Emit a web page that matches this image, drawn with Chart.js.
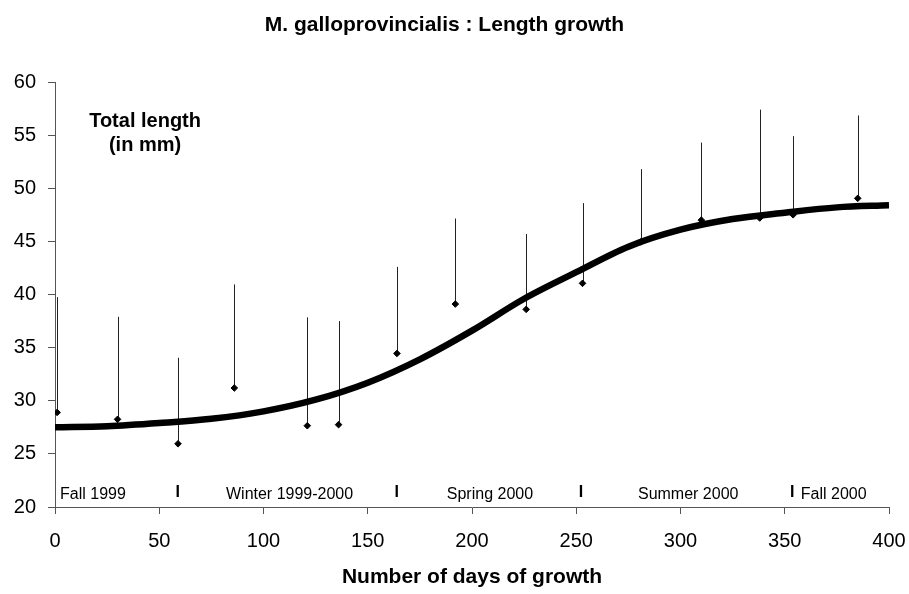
<!DOCTYPE html>
<html><head><meta charset="utf-8">
<script src="https://cdn.jsdelivr.net/npm/chart.js@4/dist/chart.umd.min.js"></script>
<style>html,body{margin:0;padding:0;background:#fff}</style>
</head><body>
<canvas id="c" width="909" height="594"></canvas>
<script>
// ---- data ----
const sampleDays   = [1, 30, 59, 86, 121, 136, 164, 192, 226, 253, 281, 310, 338, 354, 385];
const meanLength   = [28.9, 28.25, 25.95, 31.2, 27.65, 27.75, 34.45, 39.1, 38.6, 41.05, 44.95, 47.0, 47.2, 47.5, 49.05];
const upperLength  = [39.75, 37.9, 34.05, 40.95, 37.85, 37.5, 42.6, 47.15, 45.7, 48.6, 51.8, 54.3, 57.4, 54.9, 56.85];
const curveDays    = [0, 25, 50, 75, 100, 125, 150, 175, 200, 225, 250, 275, 300, 325, 350, 375, 400];
const curveLength  = [27.5, 27.6, 27.9, 28.3, 29.0, 30.1, 31.7, 33.9, 36.6, 39.6, 42.1, 44.5, 46.1, 47.1, 47.7, 48.2, 48.4];
const seasonNames  = ['Fall 1999', 'Winter 1999-2000', 'Spring 2000', 'Summer 2000', 'Fall 2000'];
const seasonLabelDays = [18.2, 112.5, 208.6, 303.7, 373.5];
const seasonBoundaryDays = [58.8, 163.9, 252.3, 353.6];
const yAxisNote = ['Total length', '(in mm)'];

Chart.defaults.font.family = '"Liberation Sans", Arial, sans-serif';
Chart.defaults.color = '#000';

const errorBars = {
  id: 'errorBars',
  beforeDatasetsDraw(chart) {
    const {x, y} = chart.scales;
    const ctx = chart.ctx;
    ctx.save();
    ctx.strokeStyle = '#222';
    ctx.lineWidth = 1;
    sampleDays.forEach((d, i) => {
      const px = Math.round(x.getPixelForValue(d)) + 0.5;
      ctx.beginPath();
      ctx.moveTo(px, y.getPixelForValue(meanLength[i]));
      ctx.lineTo(px, y.getPixelForValue(upperLength[i]));
      ctx.stroke();
    });
    ctx.restore();
  }
};

const annotations = {
  id: 'annotations',
  afterDatasetsDraw(chart) {
    const {x, y} = chart.scales;
    const ctx = chart.ctx;
    ctx.save();
    ctx.fillStyle = '#000';
    ctx.textAlign = 'center';
    ctx.textBaseline = 'alphabetic';
    ctx.font = '16px "Liberation Sans", Arial, sans-serif';
    seasonNames.forEach((n, i) => {
      ctx.fillText(n, x.getPixelForValue(seasonLabelDays[i]), y.getPixelForValue(20.8));
    });
    ctx.font = 'bold 16px "Liberation Sans", Arial, sans-serif';
    seasonBoundaryDays.forEach(d => {
      ctx.fillText('I', x.getPixelForValue(d), y.getPixelForValue(20.97));
    });
    ctx.font = 'bold 20px "Liberation Sans", Arial, sans-serif';
    ctx.fillText(yAxisNote[0], x.getPixelForValue(43.2), y.getPixelForValue(55.74));
    ctx.fillText(yAxisNote[1], x.getPixelForValue(43.2), y.getPixelForValue(53.46));
    ctx.restore();
  }
};

new Chart(document.getElementById('c'), {
  type: 'scatter',
  data: {
    datasets: [
      {
        label: 'Mean length',
        data: sampleDays.map((d, i) => ({x: d, y: meanLength[i]})),
        pointStyle: 'rectRot',
        pointRadius: 3.3,
        pointBorderWidth: 1,
        backgroundColor: '#000',
        borderColor: '#000',
        showLine: false
      },
      {
        label: 'Growth curve',
        data: curveDays.map((d, i) => ({x: d, y: curveLength[i]})),
        showLine: true,
        borderColor: '#000',
        borderWidth: 6.5,
        pointRadius: 0,
        cubicInterpolationMode: 'monotone',
        fill: false
      }
    ]
  },
  options: {
    responsive: false,
    devicePixelRatio: 1,
    animation: false,
    layout: {padding: {left: 0, right: 20, top: 0, bottom: 0}},
    plugins: {
      legend: {display: false},
      tooltip: {enabled: false},
      title: {
        display: true,
        text: 'M. galloprovincialis : Length growth',
        font: {size: 21, weight: 'bold'},
        color: '#000',
        padding: {top: 12.4, bottom: 44.4}
      }
    },
    scales: {
      x: {
        type: 'linear', min: 0, max: 400,
        ticks: {stepSize: 50, font: {size: 20}, color: '#000', padding: 15, maxRotation: 0},
        grid: {drawOnChartArea: false, drawTicks: true, tickLength: 7, color: '#555'},
        border: {display: true, color: '#555', width: 1},
        title: {display: true, text: 'Number of days of growth', font: {size: 21, weight: 'bold'}, color: '#000', padding: {top: 0, bottom: 4}},
        afterFit(s) { s.height = 87; s.paddingLeft = 0; s.paddingRight = 0; }
      },
      y: {
        min: 20, max: 60,
        ticks: {stepSize: 5, font: {size: 20}, color: '#000', padding: 12},
        grid: {drawOnChartArea: false, drawTicks: true, tickLength: 7, color: '#555'},
        border: {display: true, color: '#555', width: 1},
        afterFit(s) { s.width = 55; }
      }
    }
  },
  plugins: [errorBars, annotations]
});
</script>
</body></html>
